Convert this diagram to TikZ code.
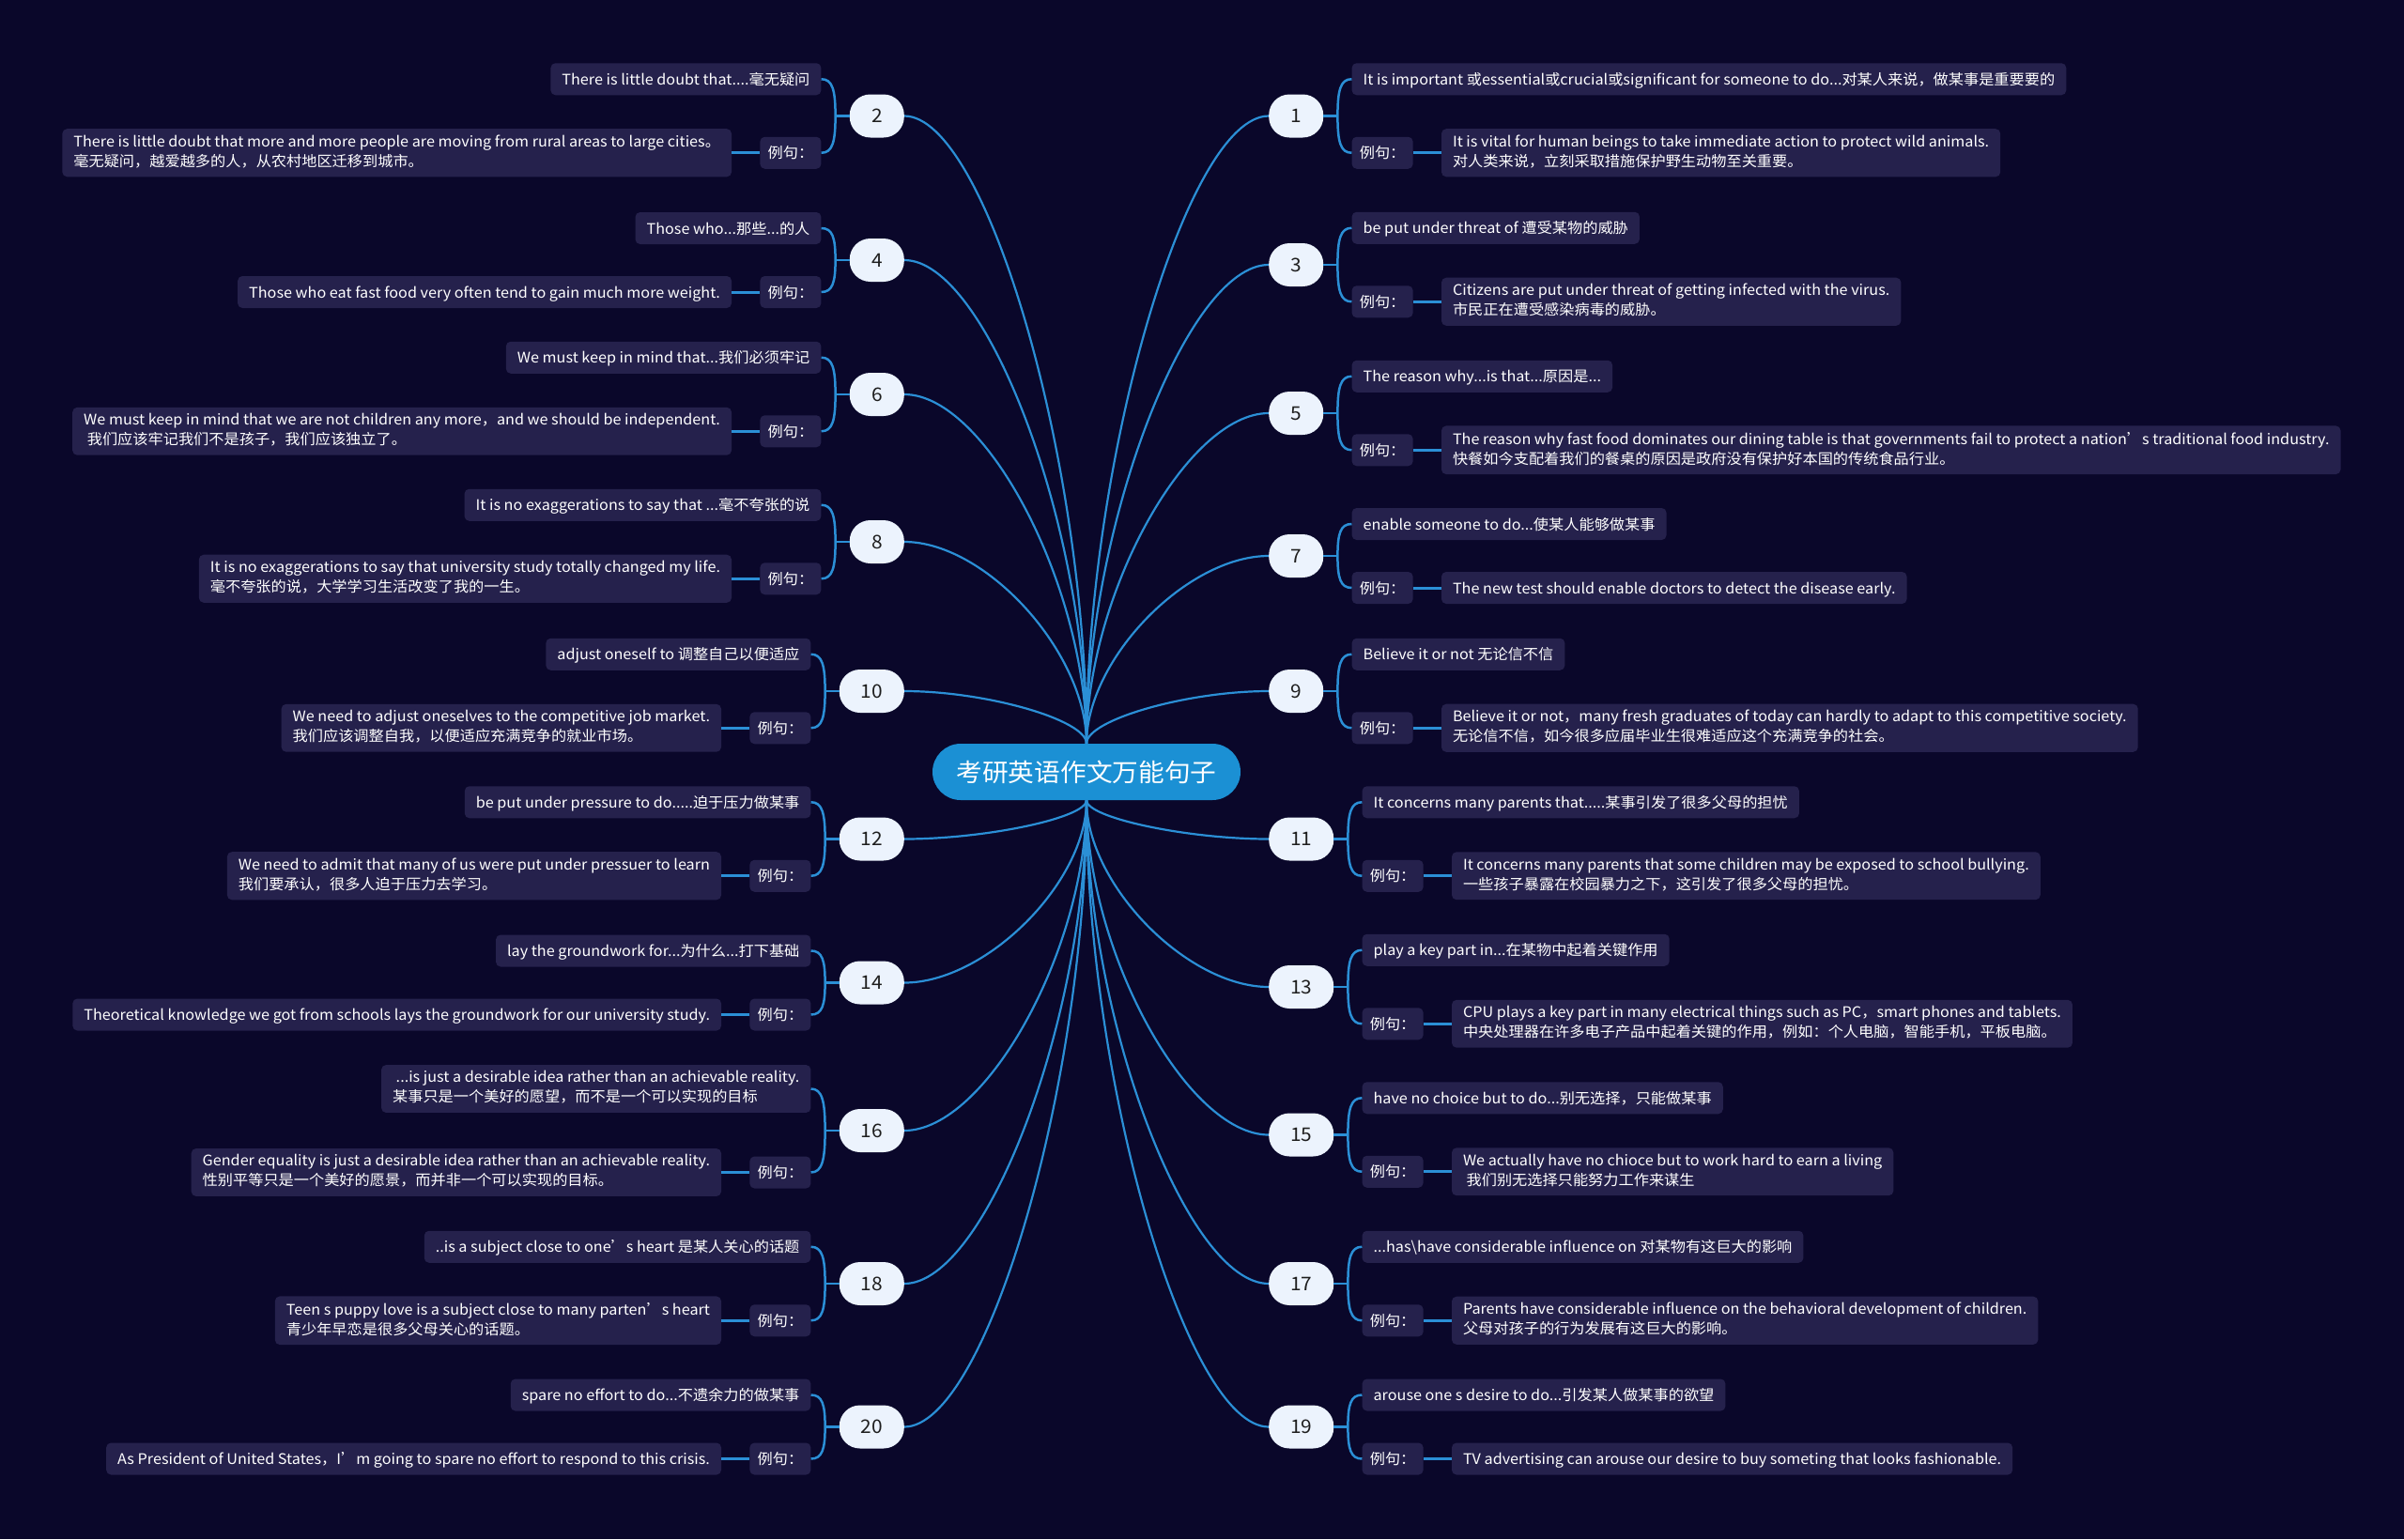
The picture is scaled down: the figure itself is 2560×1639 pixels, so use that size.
\documentclass[tikz,border=0pt]{standalone}
\usepackage{fontspec}
\setmainfont{Noto Sans CJK SC}[FakeStretch=1.045]
\usetikzlibrary{calc}
\definecolor{bgc}{RGB}{10,7,42}
\definecolor{boxc}{RGB}{37,33,76}
\definecolor{linec}{RGB}{43,143,214}
\definecolor{numc}{RGB}{236,243,253}
\definecolor{numtxt}{RGB}{30,30,30}
\definecolor{cenc}{RGB}{27,144,212}
\newcommand\mystrut{\rule[-4.5pt]{0pt}{21pt}}
\tikzset{
  leaf/.style={fill=boxc, text=white, rounded corners=5, inner xsep=12, inner ysep=6.5,
    align=left, font=\fontsize{15.5}{21}\selectfont,
    execute at begin node=\mystrut, execute at end node=\mystrut},
  lbl/.style={leaf, minimum width=65, align=center, inner xsep=4},
  num/.style={fill=numc, text=numtxt, rounded corners=22, minimum height=46, inner sep=0,
    font=\fontsize{20}{24}\selectfont},
  mainln/.style={draw=linec, line width=2.2},
  brln/.style={draw=linec, line width=2.5},
  lkln/.style={draw=linec, line width=3},
  cen/.style={fill=cenc, text=white, rounded corners=30, minimum width=328, minimum height=60,
    inner sep=0, font=\fontsize{26.5}{30}\selectfont}
}
\newcommand\LBr[6]{%
  \node[num, minimum width=#2, anchor=east] (n#1) at (963,#3) {#1};
  \node[leaf, anchor=east] (t#1) at ($(n#1.west)+(-30,-#4)$) {#5};
  \node[lbl, anchor=east] (l#1) at ($(n#1.west)+(-30,#4)$) {例句：};
  \node[leaf, anchor=east] (e#1) at ($(l#1.west)+(-30,0)$) {#6};
  \draw[brln] (n#1.west) -- ++(-15,0) coordinate (j#1);
  \draw[brln] (t#1.east) .. controls +(12,0) and +(0,{-0.7*#4}) .. (j#1)
     .. controls +(0,{0.7*#4}) and +(12,0) .. (l#1.east);
  \draw[lkln] (l#1.west) -- (e#1.east);
}
\newcommand\RBr[6]{%
  \node[num, minimum width=#2, anchor=west] (n#1) at (1351,#3) {#1};
  \node[leaf, anchor=west] (t#1) at ($(n#1.east)+(30,-#4)$) {#5};
  \node[lbl, anchor=west] (l#1) at ($(n#1.east)+(30,#4)$) {例句：};
  \node[leaf, anchor=west] (e#1) at ($(l#1.east)+(30,0)$) {#6};
  \draw[brln] (n#1.east) -- ++(15,0) coordinate (j#1);
  \draw[brln] (t#1.west) .. controls +(-12,0) and +(0,{-0.7*#4}) .. (j#1)
     .. controls +(0,{0.7*#4}) and +(-12,0) .. (l#1.west);
  \draw[lkln] (l#1.east) -- (e#1.west);
}
\begin{document}
\begin{tikzpicture}[x=1pt,y=-1pt]
\fill[bgc] (0,0) rectangle (2560,1639);
\useasboundingbox (0,0) rectangle (2560,1639);

\node[cen] (c) at (1157,822) {考研英语作文万能句子};

\LBr{2}{58}{123.5}{39.25}{There is little doubt that....毫无疑问}{There is little doubt that more and more people are moving from rural areas to large cities。\\毫无疑问，越爱越多的人，从农村地区迁移到城市。}
\LBr{4}{58}{277}{34}{Those who...那些...的人}{Those who eat fast food very often tend to gain much more weight.}
\LBr{6}{58}{420}{39.25}{We must keep in mind that...我们必须牢记}{We must keep in mind that we are not children any more，and we should be independent.\\\ 我们应该牢记我们不是孩子，我们应该独立了。}
\LBr{8}{58}{577}{39.25}{It is no exaggerations to say that ...毫不夸张的说}{It is no exaggerations to say that university study totally changed my life.\\毫不夸张的说，大学学习生活改变了我的一生。}
\LBr{10}{69}{736}{39.25}{adjust oneself to 调整自己以便适应}{We need to adjust oneselves to the competitive job market.\\我们应该调整自我，以便适应充满竞争的就业市场。}
\LBr{12}{69}{893.5}{39.25}{be put under pressure to do.....迫于压力做某事}{We need to admit that many of us were put under pressuer to learn\\我们要承认，很多人迫于压力去学习。}
\LBr{14}{69}{1046.5}{34}{lay the groundwork for...为什么...打下基础}{Theoretical knowledge we got from schools lays the groundwork for our university study.}
\LBr{16}{69}{1204}{44.5}{\ ...is just a desirable idea rather than an achievable reality.\\某事只是一个美好的愿望，而不是一个可以实现的目标}{Gender equality is just a desirable idea rather than an achievable reality.\\性别平等只是一个美好的愿景，而并非一个可以实现的目标。}
\LBr{18}{69}{1367}{39.25}{..is a subject close to one’s heart 是某人关心的话题}{Teen s puppy love is a subject close to many parten’s heart\\青少年早恋是很多父母关心的话题。}
\LBr{20}{69}{1519.5}{34}{spare no effort to do...不遗余力的做某事}{As President of United States，I’m going to spare no effort to respond to this crisis.}

\RBr{1}{58}{123.5}{39.25}{It is important 或essential或crucial或significant for someone to do...对某人来说，做某事是重要要的}{It is vital for human beings to take immediate action to protect wild animals.\\对人类来说，立刻采取措施保护野生动物至关重要。}
\RBr{3}{58}{282}{39.25}{be put under threat of 遭受某物的威胁}{Citizens are put under threat of getting infected with the virus.\\市民正在遭受感染病毒的威胁。}
\RBr{5}{58}{440}{39.25}{The reason why...is that...原因是...}{The reason why fast food dominates our dining table is that governments fail to protect a nation’s traditional food industry.\\快餐如今支配着我们的餐桌的原因是政府没有保护好本国的传统食品行业。}
\RBr{7}{58}{592}{34}{enable someone to do...使某人能够做某事}{The new test should enable doctors to detect the disease early.}
\RBr{9}{58}{736}{39.25}{Believe it or not 无论信不信}{Believe it or not，many fresh graduates of today can hardly to adapt to this competitive society.\\无论信不信，如今很多应届毕业生很难适应这个充满竞争的社会。}
\RBr{11}{69}{893.5}{39.25}{It concerns many parents that.....某事引发了很多父母的担忧}{It concerns many parents that some children may be exposed to school bullying.\\一些孩子暴露在校园暴力之下，这引发了很多父母的担忧。}
\RBr{13}{69}{1051}{39.25}{play a key part in...在某物中起着关键作用}{CPU plays a key part in many electrical things such as PC，smart phones and tablets.\\中央处理器在许多电子产品中起着关键的作用，例如：个人电脑，智能手机，平板电脑。}
\RBr{15}{69}{1208.5}{39.25}{have no choice but to do...别无选择，只能做某事}{We actually have no chioce but to work hard to earn a living\\\ 我们别无选择只能努力工作来谋生}
\RBr{17}{69}{1367}{39.25}{...has\textbackslash have considerable influence on 对某物有这巨大的影响}{Parents have considerable influence on the behavioral development of children.\\父母对孩子的行为发展有这巨大的影响。}
\RBr{19}{69}{1519.5}{34}{arouse one s desire to do...引发某人做某事的欲望}{TV advertising can arouse our desire to buy someting that looks fashionable.}

\foreach \i/\y in {2/123.5,4/277,6/420,8/577,10/736}
  \draw[mainln] (c.north) .. controls +(0,{0.45*(\y-792)}) and +(87,0) .. (n\i.east);
\foreach \i/\y in {1/123.5,3/282,5/440,7/592,9/736}
  \draw[mainln] (c.north) .. controls +(0,{0.45*(\y-792)}) and +(-87,0) .. (n\i.west);
\foreach \i/\y in {12/893.5,14/1046.5,16/1204,18/1367,20/1519.5}
  \draw[mainln] (c.south) .. controls +(0,{0.45*(\y-852)}) and +(87,0) .. (n\i.east);
\foreach \i/\y in {11/893.5,13/1051,15/1208.5,17/1367,19/1519.5}
  \draw[mainln] (c.south) .. controls +(0,{0.45*(\y-852)}) and +(-87,0) .. (n\i.west);
\end{tikzpicture}
\end{document}
